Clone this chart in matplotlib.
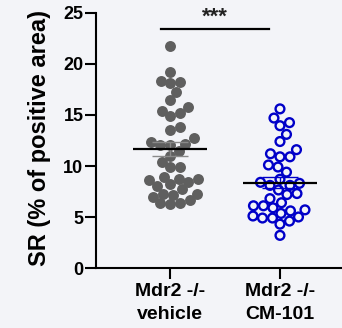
import numpy as np
import matplotlib
matplotlib.use("Agg")
import matplotlib.pyplot as plt

# SR values (% of positive area) per animal
vehicle = [21.8, 19.2, 18.1, 18.3, 18.2, 17.3, 16.5, 15.4, 15.2, 14.9, 15.75,
           13.8, 13.5, 12.7, 12.1, 12.1, 12.4, 12.2, 11.5, 11.0, 10.4, 9.9,
           9.9, 8.7, 8.7, 8.95, 8.6, 8.4, 8.0, 8.2, 7.7, 7.3, 7.2, 7.0, 7.3,
           6.4, 6.4, 6.3, 6.7]
cm101 = [15.6, 14.7, 14.25, 13.95, 13.1, 12.4, 11.6, 11.2, 10.9, 10.9, 10.1,
         9.9, 9.4, 8.7, 8.1, 8.3, 8.4, 8.1, 7.65, 7.2, 7.3, 6.8, 6.1, 6.1,
         5.6, 5.9, 5.7, 6.4, 5.1, 5.0, 4.6, 4.9, 4.3, 4.9, 5.35, 3.2]
group_labels = ["Mdr2 -/-\nvehicle", "Mdr2 -/-\nCM-101"]
y_ticks = [0, 5, 10, 15, 20, 25]
sig_label = "***"

bg = "#f3f4f8"
plt.rcParams["font.family"] = ["Liberation Sans", "DejaVu Sans"]
plt.rcParams["font.weight"] = "bold"

fig = plt.figure(figsize=(3.42, 3.28), dpi=100, facecolor=bg)
ax = fig.add_axes([0.2807, 0.1829, 0.7193, 0.7775], facecolor=bg)
ax.set_xlim(0.327, 2.564)
ax.set_ylim(0, 25)


def swarm(values, center, min_dist=9.6):
    """simple beeswarm in pixel space, returns x in data coords"""
    pts = ax.transData.transform(np.column_stack([np.full(len(values), center), values]))
    cx = pts[0, 0]
    placed = []
    xs = np.zeros(len(values))
    order = np.argsort(values)
    cand = np.arange(0, 40, 0.5)
    cand = np.concatenate([[0], np.ravel(np.column_stack([cand[1:], -cand[1:]]))])
    for i in order:
        y = pts[i, 1]
        for off in cand:
            ok = True
            for (px, py) in placed:
                if (cx + off - px) ** 2 + (y - py) ** 2 < min_dist ** 2:
                    ok = False
                    break
            if ok:
                break
        placed.append((cx + off, y))
        xs[i] = cx + off
    back = ax.transData.inverted().transform(np.column_stack([xs, pts[:, 1]]))
    return back[:, 0]


groups = [(vehicle, 1, "#5f5f5f", "#8a8a8a", True),
          (cm101, 2, "#0000c8", "#0000c8", False)]
for vals, pos, col, ecol, filled in groups:
    vals = np.array(vals)
    xs = swarm(vals, pos)
    if filled:
        ax.scatter(xs, vals, s=62, color=col, linewidths=0, zorder=3, clip_on=False)
    else:
        ax.scatter(xs, vals, s=40, facecolors="none", edgecolors=col,
                   linewidths=1.7, zorder=3, clip_on=False)
    m = vals.mean()
    sem = vals.std(ddof=1) / np.sqrt(len(vals))
    ax.errorbar(pos, m, yerr=sem, color=ecol, capsize=13, elinewidth=1,
                capthick=1, zorder=4)
    ax.hlines(m, pos - 0.34, pos + 0.34, color="black", lw=1.6, zorder=5)

# significance bar
ax.plot([0.915, 1.903], [23.4, 23.4], color="black", lw=1.6, clip_on=False)
ax.text(1.41, 23.55, sig_label, ha="center", va="bottom", fontsize=16,
        fontweight="bold", color="#222222")

ax.set_xticks([1, 2])
ax.set_xticklabels(group_labels, fontsize=14, fontweight="bold",
                   linespacing=1.45)
ax.set_yticks(y_ticks)
ax.set_yticklabels([str(t) for t in y_ticks], fontsize=13, fontweight="bold")
ax.tick_params(length=8, width=1.5, pad=1)
ax.tick_params(axis="x", pad=3)
ax.set_ylabel("SR (% of positive area)", fontsize=17, fontweight="bold")
ax.yaxis.set_label_coords(-0.181, 0.508)
for s in ["top", "right"]:
    ax.spines[s].set_visible(False)
for s in ["left", "bottom"]:
    ax.spines[s].set_linewidth(1.5)

fig.savefig("out.png", dpi=100, facecolor=bg)
